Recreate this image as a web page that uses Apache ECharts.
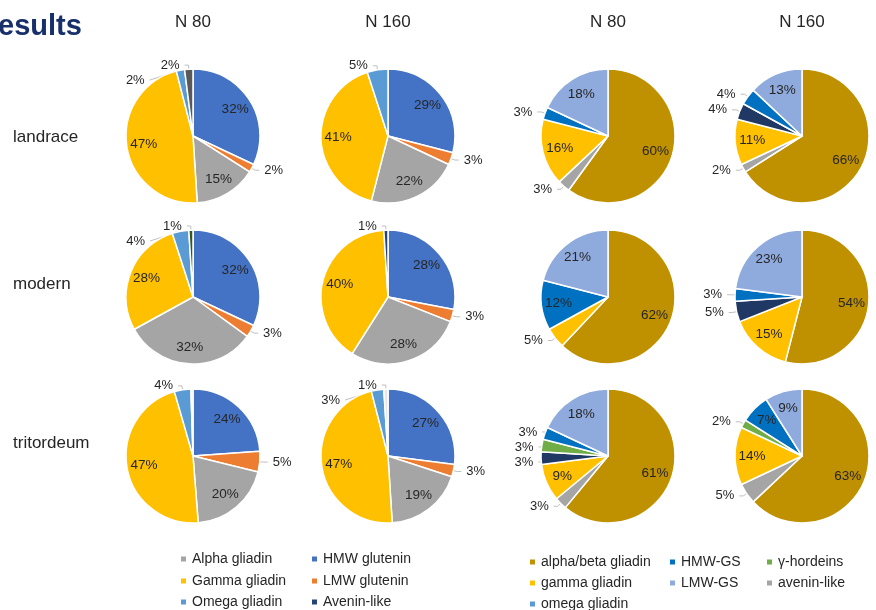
<!DOCTYPE html>
<html>
<head>
<meta charset="utf-8">
<script src="https://cdn.jsdelivr.net/npm/echarts@6/dist/echarts.min.js"></script>
<style>
html, body { margin: 0; padding: 0; background: #fff; }
#main { width: 876px; height: 610px; }
</style>
</head>
<body>
<div id="main"></div>
<script>
// 左边两列：蛋白组分（顺时针从12点开始）
var leftNames = ['HMW glutenin', 'LMW glutenin', 'Alpha gliadin', 'Gamma gliadin', 'Omega gliadin', 'Avenin-like'];
var landraceN80 = [32, 2, 15, 47, 2, 2];
var landraceN160 = [29, 3, 22, 41, 5, 0];
var modernN80 = [32, 3, 32, 28, 4, 1];
var modernN160 = [28, 3, 28, 40, 0, 1];
var tritordeumN80 = [24, 5, 20, 47, 4, 0.5];
var tritordeumN160 = [27, 3, 19, 47, 3, 1];

// 右边两列
var rightNames = ['alpha/beta gliadin', 'avenin-like', 'gamma gliadin', 'omega gliadin', 'γ-hordeins', 'HMW-GS', 'LMW-GS'];
var landraceN80b = [60, 3, 16, 0, 0, 3, 18];
var landraceN160b = [66, 2, 11, 4, 0, 4, 13];
var modernN80b = [62, 0, 5, 0, 0, 12, 21];
var modernN160b = [54, 0, 15, 5, 0, 3, 23];
var tritordeumN80b = [61, 3, 9, 3, 3, 3, 18];
var tritordeumN160b = [63, 5, 14, 0, 2, 7, 9];

var rowLabels = ['landrace', 'modern', 'tritordeum'];
var colLabels = ['N 80', 'N 160', 'N 80', 'N 160'];

// 图例按列排
var leftLegendCols = [['Alpha gliadin', 'Gamma gliadin', 'Omega gliadin'], ['HMW glutenin', 'LMW glutenin', 'Avenin-like']];
var rightLegendCols = [['alpha/beta gliadin', 'gamma gliadin', 'omega gliadin'], ['HMW-GS', 'LMW-GS'], ['γ-hordeins', 'avenin-like']];

var FONT = '"Liberation Sans", Arial, sans-serif';

var leftColors = ['#4472c4', '#ed7d31', '#a5a5a5', '#ffc000', '#5b9bd5', '#264478'];
var rightColors = ['#bf9000', '#a5a5a5', '#ffc000', '#203864', '#70ad47', '#0070c0', '#8faadc'];
var legendColors = {
	'Alpha gliadin': '#a5a5a5', 'Gamma gliadin': '#ffc000', 'Omega gliadin': '#5b9bd5',
	'HMW glutenin': '#4472c4', 'LMW glutenin': '#ed7d31', 'Avenin-like': '#264478',
	'alpha/beta gliadin': '#bf9000', 'gamma gliadin': '#ffc000', 'omega gliadin': '#5b9bd5',
	'HMW-GS': '#0070c0', 'LMW-GS': '#8faadc', 'γ-hordeins': '#70ad47', 'avenin-like': '#a5a5a5'
};

var colX = [193, 388, 608, 802];
var rowY = [136, 297, 456];
var R = 67;

var pies = [
	[landraceN80, landraceN160, landraceN80b, landraceN160b],
	[modernN80, modernN160, modernN80b, modernN160b],
	[tritordeumN80, tritordeumN160, tritordeumN80b, tritordeumN160b]
];
// 左边 Avenin-like 在每个图里颜色不一样
var leftSixth = [['#595959', '#264478'], ['#375623', '#264478'], ['#e7e6e6', '#e7e6e6']];

var series = [];
var labelSeries = [];
pies.forEach(function(row, r) {
	row.forEach(function(values, c) {
		var isLeft = c < 2;
		var names = isLeft ? leftNames : rightNames;
		var cols = isLeft ? leftColors.slice() : rightColors.slice();
		if (isLeft) cols[5] = leftSixth[r][c];
		var main = [], inner = [];
		values.forEach(function(v, i) {
			if (v <= 0) return;
			main.push({
				value: v,
				name: names[i],
				itemStyle: { color: cols[i] },
				label: { show: v >= 1 && v < 6 }
			});
			inner.push({
				value: v,
				name: names[i],
				label: { show: v >= 6 }
			});
		});
		var center = [colX[c], rowY[r]];
		series.push({
			type: 'pie',
			center: center,
			radius: [0, R],
			startAngle: 90,
			avoidLabelOverlap: true,
			silent: true,
			itemStyle: { borderColor: '#fff', borderWidth: 1.5 },
			label: {
				position: 'outside',
				formatter: '{c}%',
				color: '#262626',
				fontFamily: FONT,
				fontSize: 13
			},
			labelLine: { show: true, length: 4, length2: 4, lineStyle: { color: '#bfbfbf', width: 1 } },
			data: main
		});
		// 透明的环，只用来把里面的标签放远一点
		labelSeries.push({
			type: 'pie',
			center: center,
			radius: [R * 0.4, R],
			startAngle: 90,
			silent: true,
			itemStyle: { color: 'rgba(0,0,0,0)', borderWidth: 0 },
			label: {
				position: 'inside',
				formatter: '{c}%',
				color: '#262626',
				fontFamily: FONT,
				fontSize: 13.5
			},
			labelLine: { show: false },
			data: inner
		});
	});
});

// 每个图例项单独一个 legend，方便对齐成列
function makeLegend(name, left, top) {
	return {
		orient: 'horizontal',
		left: left,
		top: top,
		padding: 0,
		itemWidth: 7,
		itemHeight: 7,
		itemGap: 0,
		icon: 'rect',
		selectedMode: false,
		textStyle: { fontFamily: FONT, fontSize: 14, color: '#262626', padding: [0, 0, 0, 0] },
		data: [{ name: name, itemStyle: { color: legendColors[name] } }]
	};
}

var legends = [];
var leftColX = [179, 310];
var leftRowY = [552, 574, 595];
leftLegendCols.forEach(function(col, ci) {
	col.forEach(function(n, ri) {
		legends.push(makeLegend(n, leftColX[ci], leftRowY[ri]));
	});
});
var rightColX = [528, 668, 765];
var rightRowY = [555, 576, 597];
rightLegendCols.forEach(function(col, ci) {
	col.forEach(function(n, ri) {
		legends.push(makeLegend(n, rightColX[ci], rightRowY[ri]));
	});
});

var graphics = [{
	type: 'text', left: -2, top: 12,
	style: { text: 'esults', fill: '#17306b', font: 'bold 29px ' + FONT }
}];
colLabels.forEach(function(t, i) {
	graphics.push({
		type: 'text', x: colX[i], y: 22,
		style: { text: t, fill: '#262626', font: '17px ' + FONT, textAlign: 'center', textVerticalAlign: 'middle' }
	});
});
rowLabels.forEach(function(t, i) {
	graphics.push({
		type: 'text', x: 13, y: [137, 284, 443][i],
		style: { text: t, fill: '#262626', font: '17px ' + FONT, textVerticalAlign: 'middle' }
	});
});

var myChart = echarts.init(document.getElementById('main'));
var option = {
	backgroundColor: '#ffffff',
	animation: false,
	legend: legends,
	graphic: graphics,
	series: series.concat(labelSeries)
};
myChart.setOption(option);
</script>
</body>
</html>
